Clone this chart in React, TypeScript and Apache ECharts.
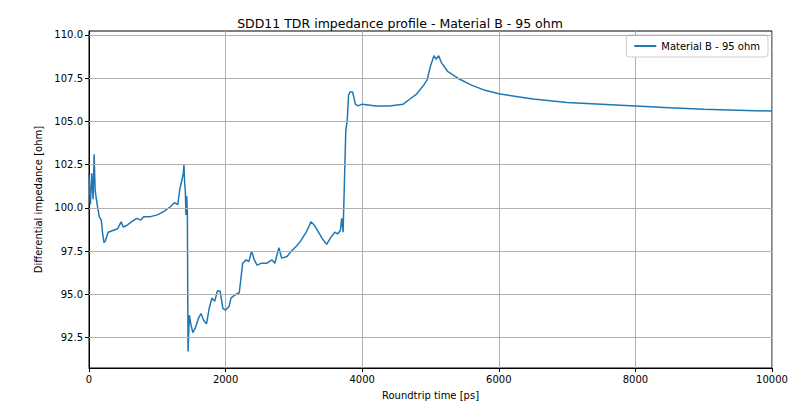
import { useEffect, useRef } from 'react';
import * as echarts from 'echarts';

const times = [0, 20, 40, 60, 75, 90, 120, 150, 180, 200, 220, 240, 280, 350, 420, 470, 500, 560, 620, 700, 760, 800, 900, 1000, 1100, 1200, 1250, 1300, 1330, 1360, 1380, 1390, 1400, 1410, 1420, 1430, 1440, 1450, 1470, 1490, 1520, 1560, 1600, 1640, 1680, 1720, 1760, 1800, 1840, 1880, 1920, 1960, 2000, 2050, 2080, 2150, 2200, 2250, 2300, 2340, 2380, 2420, 2460, 2520, 2600, 2680, 2720, 2780, 2820, 2900, 2960, 3040, 3100, 3180, 3250, 3300, 3360, 3420, 3480, 3540, 3600, 3640, 3680, 3700, 3720, 3740, 3760, 3780, 3800, 3820, 3860, 3900, 3940, 4000, 4200, 4400, 4600, 4700, 4800, 4900, 4950, 5000, 5050, 5080, 5120, 5160, 5250, 5400, 5600, 5800, 6000, 6500, 7000, 7500, 8000, 8500, 9000, 9500, 10000];
const impedance = [101.9, 100.2, 102.0, 100.5, 103.1, 101.0, 100.2, 99.5, 99.3, 98.5, 98.0, 98.1, 98.6, 98.7, 98.8, 99.2, 98.9, 99.0, 99.2, 99.4, 99.3, 99.5, 99.5, 99.6, 99.8, 100.1, 100.3, 100.2, 101.1, 101.6, 102.0, 102.5, 101.5, 101.0, 99.6, 100.7, 99.8, 91.7, 93.8, 93.3, 92.8, 93.1, 93.6, 93.9, 93.5, 93.3, 94.2, 94.8, 94.6, 95.2, 95.2, 94.2, 94.1, 94.3, 94.8, 95.0, 95.1, 96.8, 97.0, 96.9, 97.5, 97.0, 96.7, 96.8, 96.8, 97.0, 96.8, 97.7, 97.1, 97.2, 97.5, 97.8, 98.1, 98.6, 99.2, 99.0, 98.6, 98.2, 97.9, 98.3, 98.6, 98.5, 98.7, 99.4, 98.6, 101.5, 104.5, 105.0, 106.5, 106.7, 106.7, 106.0, 105.9, 106.0, 105.9, 105.9, 106.0, 106.3, 106.6, 107.1, 107.4, 108.2, 108.8, 108.6, 108.8, 108.4, 107.9, 107.5, 107.1, 106.8, 106.6, 106.3, 106.1, 106.0, 105.9, 105.8, 105.7, 105.65, 105.6];
const yTicks = [92.5, 95.0, 97.5, 100.0, 102.5, 105.0, 107.5, 110.0];

export default function App() {
  const chartRef = useRef<HTMLDivElement>(null);

  useEffect(() => {
    if (!chartRef.current) return;
    const chart = echarts.init(chartRef.current, null, { renderer: 'svg' });
    const font = 'DejaVu Sans';
    chart.setOption({
      animation: false,
      textStyle: { fontFamily: font },
      title: {
        text: 'SDD11 TDR impedance profile - Material B - 95 ohm',
        left: 'center', top: 4,
        textStyle: { fontSize: 12.5, fontWeight: 'normal', color: '#000', fontFamily: font }
      },
      legend: {
        right: 24, top: 27,
        backgroundColor: '#fff', borderColor: '#ccc', borderWidth: 1, borderRadius: 3,
        padding: [6, 8], itemWidth: 22, itemHeight: 2,
        textStyle: { fontSize: 10, color: '#000', fontFamily: font },
        data: [{ name: 'Material B - 95 ohm', icon: 'rect' }]
      },
      grid: { left: 81, right: 20, top: 23, bottom: 35, show: true, borderColor: '#000', borderWidth: 1 },
      xAxis: {
        type: 'value', min: 0, max: 10000, interval: 2000,
        name: 'Roundtrip time [ps]', nameLocation: 'middle', nameGap: 22,
        nameTextStyle: { fontSize: 10, color: '#000' },
        axisLine: { lineStyle: { color: '#000' } },
        axisTick: { show: true, length: 4, lineStyle: { color: '#000' } },
        axisLabel: { fontSize: 10, color: '#000', margin: 6, formatter: (v: number) => String(v) },
        splitLine: { show: true, lineStyle: { color: '#b0b0b0', width: 1 } }
      },
      yAxis: {
        type: 'value', min: 90.75, max: 110.23,
        name: 'Differential impedance [ohm]', nameLocation: 'middle', nameGap: 38,
        nameTextStyle: { fontSize: 10, color: '#000' },
        axisLine: { show: true, lineStyle: { color: '#000' } },
        axisTick: { show: true, length: 4, customValues: yTicks, lineStyle: { color: '#000' } },
        axisLabel: { fontSize: 10, color: '#000', margin: 6, customValues: yTicks, formatter: (v: number) => v.toFixed(1) },
        splitLine: { show: false }
      },
      series: [{
        name: 'Material B - 95 ohm',
        type: 'line',
        data: times.map((t, i) => [t, impedance[i]]),
        showSymbol: false,
        lineStyle: { color: '#1f77b4', width: 1.5 },
        itemStyle: { color: '#1f77b4' },
        markLine: {
          silent: true, symbol: 'none', label: { show: false },
          lineStyle: { color: '#b0b0b0', width: 1, type: 'solid' },
          data: yTicks.map(v => ({ yAxis: v }))
        }
      }]
    });
    return () => chart.dispose();
  }, []);

  return <div ref={chartRef} style={{ width: 784, height: 397 }} />;
}
